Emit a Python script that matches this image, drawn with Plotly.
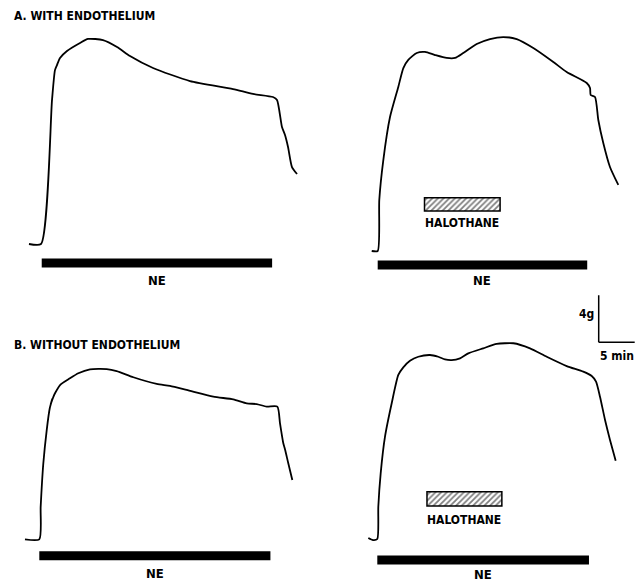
import plotly.graph_objects as go

# ---------------- data (time in min from NE onset, tension in g above baseline) -------------
A_LEFT_T = [-1.67, 0, 1.53, 1.94, 2.22, 2.64, 3.61, 5.42, 6.53, 8.61, 10.56, 12.36, 15.56,
            20.69, 26.67, 29.44, 32.22, 32.78, 33.47, 33.89, 34.31, 34.86, 35.56]
A_LEFT_G = [0, 0, 12.26, 14.8, 15.23, 15.83, 16.43, 17.11, 17.45, 17.36, 16.77, 16.0, 14.98,
            13.87, 13.19, 12.77, 12.51, 12.26, 9.96, 9.28, 8.26, 6.55, 5.96]

A_RIGHT_T = [-0.83, 0, 0.22, 0.78, 1.71, 2.86, 3.56, 4.25, 5.42, 6.57, 7.96, 9.58, 10.74,
             11.89, 13.75, 15.60, 17.44, 19.31, 21.61, 24.39, 26.25, 29.03, 29.49, 29.58,
             30.18, 30.64, 31.33, 32.26, 33.42]
A_RIGHT_G = [0, 0, 4.34, 7.74, 11.40, 13.96, 15.57, 16.26, 16.85, 16.94, 16.68, 16.43, 16.43,
             16.85, 17.62, 18.04, 18.21, 18.04, 17.28, 16.09, 15.23, 14.30, 13.87, 13.28,
             13.11, 11.15, 9.19, 7.15, 5.62]

B_LEFT_T = [-1.99, 0, 0.19, 0.56, 1.03, 1.46, 1.83, 1.58, 1.97, 2.18, 2.88, 4.26, 5.42, 7.04,
            9.36, 10.75, 13.06, 16.31, 18.15, 20.47, 24.17, 26.94, 28.81, 30.19, 31.58,
            33.06, 33.43, 33.89, 34.15, 34.58, 35.14]
B_LEFT_G = [0, 0, 2.77, 6.47, 9.30, 11.17, 11.98, 11.51, 12.15, 12.43, 13.13, 13.70, 14.13,
            14.47, 14.49, 14.32, 13.79, 13.22, 13.05, 12.71, 12.14, 11.91, 11.57, 11.51,
            11.29, 11.29, 9.87, 8.17, 7.60, 6.47, 5.05]

B_RIGHT_T = [-1.25, -0.6, 0, 0.14, 0.47, 1.07, 2.0, 2.92, 3.61, 4.54, 5.69, 7.32, 8.47, 9.40,
             10.33, 11.49, 12.64, 14.72, 16.58, 18.89, 21.21, 23.53, 26.31, 28.61, 29.78,
             30.38, 30.93, 31.63, 32.32, 33.11]
B_RIGHT_G = [0.09, -0.09, 0, 2.75, 5.59, 8.71, 11.55, 13.96, 14.61, 15.17, 15.51, 15.66,
             15.51, 15.29, 15.23, 15.38, 15.80, 16.23, 16.60, 16.66, 16.23, 15.51, 14.72,
             14.24, 13.87, 13.39, 12.11, 10.13, 8.43, 6.66]

# NE application (start, end) in min, per panel
NE_PERIODS = [(0.1, 32.1), (0.0, 29.1), (0.0, 32.1), (0.0, 29.4)]
# Halothane application (start, end) in min (right panels only)
HALO_PERIODS = [None, (6.5, 17.0), None, (6.9, 17.3)]

PANEL_TITLES = ["A. WITH ENDOTHELIUM", "B. WITHOUT ENDOTHELIUM"]
NE_LABEL = "NE"
HALO_LABEL = "HALOTHANE"
SCALE_G = 4
SCALE_MIN = 5

# ---------------- layout geometry (pixels in the reference picture) ----------------
W, H = 643, 582
PAGE = 8                      # default body margin of the html page
FW, FH = W - PAGE, H - PAGE   # figure size
PX_PER_MIN = 7.2
PX_PER_G = 11.75
# origin (NE onset, baseline) of each panel in reference pixels
ORIGINS = [(41.0, 244.0), (377.7, 251.0), (39.3, 539.3), (377.3, 539.0)]
LEFT_PX, RIGHT_PX = 25, 262
UP_PX = [222, 222, 222, 252]
DOWN_PX = 42
NE_BAR_DY = [19, 14, 16.5, 21]
NE_LAB_DY = [36, 29, 34, 35]
HALO_BAR = [None, (40.0, 53.3), None, (33.0, 47.3)]   # px above baseline (bottom, top)
HALO_LAB_DY = [None, 28, None, 19]
TITLE_POS = [(12, 16), (12, 345)]
FONT = "Liberation Sans Narrow, DejaVu Sans Condensed, Arial Narrow, sans-serif"

traces_t = [A_LEFT_T, A_RIGHT_T, B_LEFT_T, B_RIGHT_T]
traces_g = [A_LEFT_G, A_RIGHT_G, B_LEFT_G, B_RIGHT_G]

fig = go.Figure()
layout_axes = {}
shapes = []
annotations = []

for i in range(4):
    ox, oy = ORIGINS[i][0] - PAGE, ORIGINS[i][1] - PAGE
    xa = "x" if i == 0 else f"x{i+1}"
    ya = "y" if i == 0 else f"y{i+1}"
    xname = "xaxis" if i == 0 else f"xaxis{i+1}"
    yname = "yaxis" if i == 0 else f"yaxis{i+1}"
    x0p, x1p = max(ox - LEFT_PX, 0), min(ox + RIGHT_PX, FW)
    y0p, y1p = max(oy - UP_PX[i], 0), min(oy + DOWN_PX, FH)
    layout_axes[xname] = dict(domain=[x0p / FW, x1p / FW],
                              range=[(x0p - ox) / PX_PER_MIN, (x1p - ox) / PX_PER_MIN],
                              visible=False, anchor=ya, fixedrange=True)
    layout_axes[yname] = dict(domain=[1 - y1p / FH, 1 - y0p / FH],
                              range=[(oy - y1p) / PX_PER_G, (oy - y0p) / PX_PER_G],
                              visible=False, anchor=xa, fixedrange=True)

    fig.add_trace(go.Scatter(x=traces_t[i], y=traces_g[i], mode="lines",
                             line=dict(color="black", width=1.8, shape="spline", smoothing=0.6),
                             xaxis=xa, yaxis=ya, showlegend=False, hoverinfo="skip",
                             cliponaxis=False))

    # NE bar
    ne0, ne1 = NE_PERIODS[i]
    yb = -NE_BAR_DY[i] / PX_PER_G
    shapes.append(dict(type="line", xref=xa, yref=ya, x0=ne0, x1=ne1, y0=yb, y1=yb,
                       line=dict(color="black", width=9)))
    annotations.append(dict(xref=xa, yref=ya, x=(ne0 + ne1) / 2, y=-NE_LAB_DY[i] / PX_PER_G,
                            text=f"<b>{NE_LABEL}</b>", showarrow=False,
                            font=dict(family=FONT, size=13, color="black")))

    # Halothane bar
    if HALO_PERIODS[i] is not None:
        h0, h1 = HALO_PERIODS[i]
        hb0, hb1 = HALO_BAR[i]
        fig.add_trace(go.Bar(x=[h1 - h0], base=[h0], y=[(hb0 + hb1) / 2 / PX_PER_G],
                             width=[(hb1 - hb0) / PX_PER_G], orientation="h",
                             marker=dict(color="white",
                                         line=dict(color="black", width=1.5),
                                         pattern=dict(shape="/", fgcolor="black", bgcolor="white",
                                                      size=4, solidity=0.45)),
                             xaxis=xa, yaxis=ya, showlegend=False, hoverinfo="skip"))
        annotations.append(dict(xref=xa, yref=ya, x=(h0 + h1) / 2,
                                y=HALO_LAB_DY[i] / PX_PER_G,
                                text=f"<b>{HALO_LABEL}</b>", showarrow=False,
                                font=dict(family=FONT, size=12, color="black")))

# scale bar in panel B-right
sx = 30.75
sy = 16.74
shapes.append(dict(type="line", xref="x4", yref="y4", x0=sx, x1=sx, y0=sy, y1=sy + SCALE_G,
                   line=dict(color="black", width=1.5)))
shapes.append(dict(type="line", xref="x4", yref="y4", x0=sx, x1=sx + SCALE_MIN, y0=sy, y1=sy,
                   line=dict(color="black", width=1.5)))
annotations.append(dict(xref="x4", yref="y4", x=sx - 0.4, y=sy + SCALE_G * 0.6,
                        text=f"<b>{SCALE_G}g</b>", showarrow=False, xanchor="right",
                        font=dict(family=FONT, size=12, color="black")))
annotations.append(dict(xref="x4", yref="y4", x=sx + SCALE_MIN / 2, y=sy - 1.2,
                        text=f"<b>{SCALE_MIN} min</b>", showarrow=False,
                        font=dict(family=FONT, size=12, color="black")))

# panel titles
for title, (tx, ty) in zip(PANEL_TITLES, TITLE_POS):
    annotations.append(dict(xref="paper", yref="paper", x=(tx - PAGE) / FW, y=1 - (ty - PAGE) / FH,
                            text=f"<b>{title}</b>", showarrow=False,
                            xanchor="left", yanchor="middle",
                            font=dict(family=FONT, size=12, color="black")))

fig.update_layout(width=FW, height=FH, margin=dict(l=0, r=0, t=0, b=0),
                  paper_bgcolor="white", plot_bgcolor="rgba(0,0,0,0)",
                  shapes=shapes, annotations=annotations, barmode="overlay",
                  **layout_axes)

fig.write_html("out.html")
